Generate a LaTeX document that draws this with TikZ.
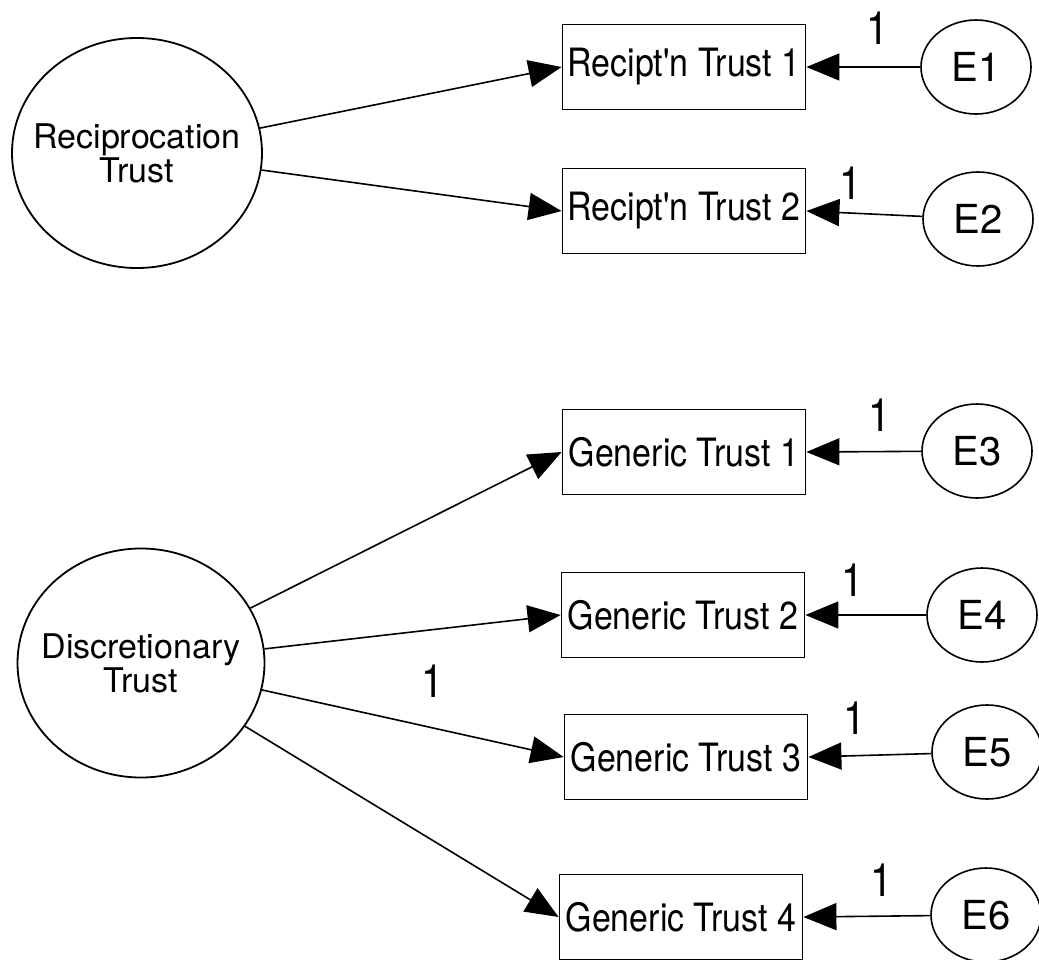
\documentclass[tikz,border=0pt]{standalone}
\usepackage{fontspec}
\setmainfont{TeX Gyre Heros}
\newfontfamily\boxfont[FakeStretch=0.87]{TeX Gyre Heros}
\usetikzlibrary{shapes.geometric,arrows.meta}
\begin{document}
\begin{tikzpicture}[x=1pt,y=-1pt,
  latent/.style={draw, ellipse, line width=1.8pt, inner sep=0pt},
  latentname/.style={inner sep=0pt, align=center, font=\fontsize{34}{34}\selectfont},
  indicator/.style={draw, rectangle, line width=1.8pt, minimum width=243pt,
    minimum height=85pt, inner sep=0pt, font=\boxfont\fontsize{39}{39}\selectfont},
  errterm/.style={draw, ellipse, line width=1.6pt, minimum width=110pt,
    minimum height=94pt, inner sep=0pt, font=\fontsize{40}{40}\selectfont},
  loading/.style={line width=1.6pt, -{Triangle[length=33pt,width=27pt]}},
  fixval/.style={inner sep=0pt, font=\boxfont\fontsize{46}{46}\selectfont}
]
% canvas
\fill[white] (0,0) rectangle (1039,959);
\useasboundingbox (0,0) rectangle (1039,959);

% latent factors (outline, then the centred name)
\node[latent, minimum width=250pt, minimum height=230pt] (RT) at (137,153) {};
\node[latentname] (RTname) at (RT.center) {Reciprocation\\Trust};
\node[latent, minimum width=247pt, minimum height=229pt] (DT) at (141,663) {};
\node[latentname] (DTname) at (DT.center) {Discretionary\\Trust};

% observed indicators
\node[indicator] (R1) at (684,67)  {Recipt'n Trust 1};
\node[indicator] (R2) at (684,211) {Recipt'n Trust 2};
\node[indicator] (G1) at (684,452) {Generic Trust 1};
\node[indicator] (G2) at (683,615) {Generic Trust 2};
\node[indicator] (G3) at (686,757) {Generic Trust 3};
\node[indicator] (G4) at (681,917) {Generic Trust 4};

% error terms
\node[errterm] (E1) at (976,67)  {E1};
\node[errterm] (E2) at (978,219) {E2};
\node[errterm] (E3) at (977,451) {E3};
\node[errterm] (E4) at (982,615) {E4};
\node[errterm] (E5) at (987,752) {E5};
\node[errterm] (E6) at (986,915) {E6};

% factor loadings
\draw[loading] (RT) -- (R1.west);
\draw[loading] (RT) -- (R2.west);
\draw[loading] (DT) -- (G1.west);
\draw[loading] (DT) -- (G2.west);
\draw[loading] (DT) -- (G3.west);
\draw[loading] (DT) -- (G4.west);

% error paths
\draw[loading] (E1) -- (R1.east);
\draw[loading] (E2) -- (R2.east);
\draw[loading] (E3) -- (G1.east);
\draw[loading] (E4) -- (G2.east);
\draw[loading] (E5) -- (G3.east);
\draw[loading] (E6) -- (G4.east);

% fixed parameters
\node[fixval] (f1) at (878,28)  {1};
\node[fixval] (f2) at (851,183) {1};
\node[fixval] (f3) at (880,415) {1};
\node[fixval] (f4) at (853,580) {1};
\node[fixval] (f5) at (855,718) {1};
\node[fixval] (f6) at (882,880) {1};
\node[fixval] (f7) at (433,681) {1};
\end{tikzpicture}
\end{document}
